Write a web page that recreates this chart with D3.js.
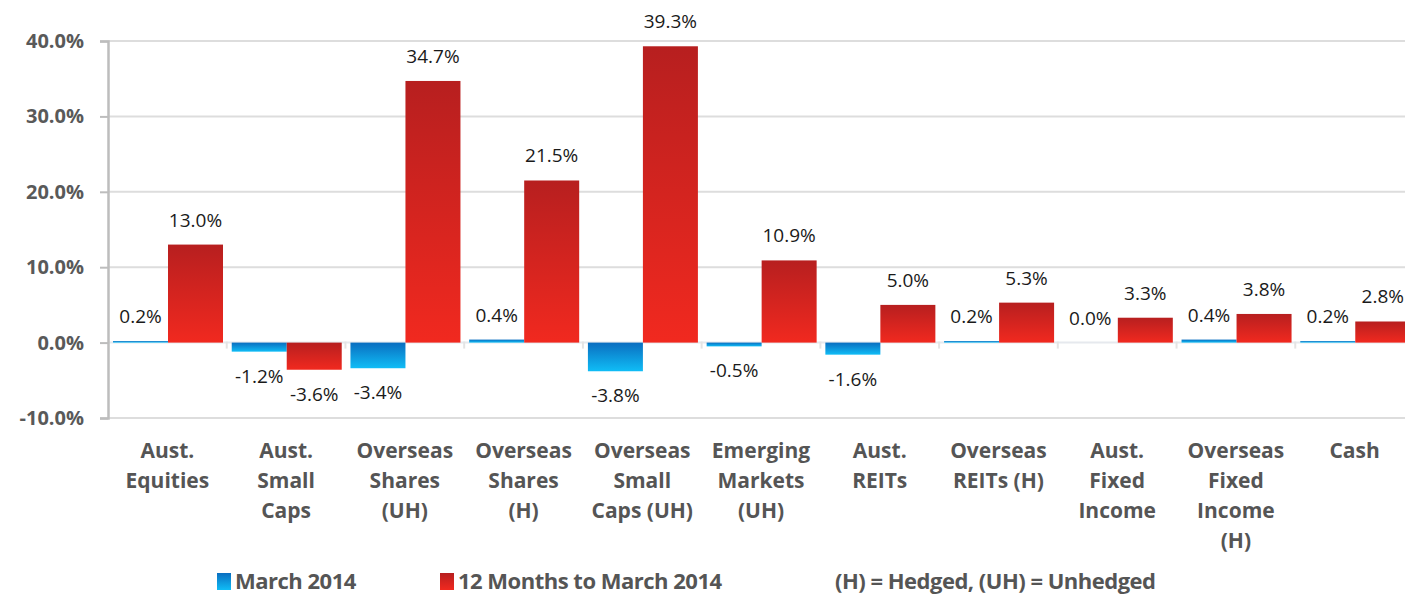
<!DOCTYPE html>
<html>
<head>
<meta charset="utf-8">
<script src="https://cdn.jsdelivr.net/npm/d3@7"></script>
<style>
  body { margin: 0; background: #fff; }
  svg { display: block; }
</style>
</head>
<body>
<script>
const width = 1405;
const height = 595;

// data
const categories = [
    ["Aust.", "Equities"],
    ["Aust.", "Small", "Caps"],
    ["Overseas", "Shares", "(UH)"],
    ["Overseas", "Shares", "(H)"],
    ["Overseas", "Small", "Caps (UH)"],
    ["Emerging", "Markets", "(UH)"],
    ["Aust.", "REITs"],
    ["Overseas", "REITs (H)"],
    ["Aust.", "Fixed", "Income"],
    ["Overseas", "Fixed", "Income", "(H)"],
    ["Cash"]
];
const march2014 = [0.2, -1.2, -3.4, 0.4, -3.8, -0.5, -1.6, 0.2, 0.0, 0.4, 0.2];
const twelveMonths = [13.0, -3.6, 34.7, 21.5, 39.3, 10.9, 5.0, 5.3, 3.3, 3.8, 2.8];
const yTicks = [-10, 0, 10, 20, 30, 40];
const seriesNames = ["March 2014", "12 Months to March 2014"];
const noteText = "(H) = Hedged, (UH) = Unhedged";

const font = "'Open Sans', 'Noto Sans', sans-serif";

// plot runs a little past the right edge, the last bar is clipped like the original
const margin = {left: 108, right: -9, top: 41, bottom: 178};

const svg = d3.select("body")
    .append("svg")
    .attr("width", width)
    .attr("height", height);

const defs = svg.append("defs");
const addGradient = (id, top, bottom) => {
    let g = defs.append("linearGradient")
        .attr("id", id)
        .attr("x1", 0).attr("y1", 0)
        .attr("x2", 0).attr("y2", 1);
    g.append("stop").attr("offset", "0%").attr("stop-color", top);
    g.append("stop").attr("offset", "100%").attr("stop-color", bottom);
};
addGradient("redGrad", "#b71f1f", "#f1291f");
addGradient("blueGrad", "#0a6ec0", "#10bdf6");

const x = d3.scaleBand()
    .domain(d3.range(categories.length))
    .range([margin.left, width - margin.right])
    .paddingInner(0)
    .paddingOuter(0);

const y = d3.scaleLinear()
    .domain([-10, 40])
    .range([height - margin.bottom + 1, margin.top]);

const groupW = x.bandwidth();
const barW = 55;
const barOff = 5;

// gridlines
svg.append("g")
    .selectAll("line")
    .data(yTicks)
    .join("line")
    .attr("x1", margin.left)
    .attr("x2", width)
    .attr("y1", d => y(d))
    .attr("y2", d => y(d))
    .attr("stroke", d => d === 0 ? "#e6e9ee" : "#dddddd")
    .attr("stroke-width", 2);

// category separators on the zero line
svg.append("g")
    .selectAll("line")
    .data(d3.range(1, categories.length))
    .join("line")
    .attr("x1", d => x(d))
    .attr("x2", d => x(d))
    .attr("y1", y(0) - 1)
    .attr("y2", y(0) + 6)
    .attr("stroke", "#e4e4e4")
    .attr("stroke-width", 2);

// y axis
const yAxis = d3.axisLeft(y)
    .tickValues(yTicks)
    .tickSize(8)
    .tickPadding(16)
    .tickFormat(d => d.toFixed(1) + "%");

const yG = svg.append("g")
    .attr("transform", `translate(${margin.left},0)`)
    .call(yAxis);
yG.select(".domain").attr("stroke", "#bdbdbd").attr("stroke-width", 2.5);
yG.selectAll(".tick line").attr("stroke", "#bdbdbd").attr("stroke-width", 2);
yG.selectAll(".tick text")
    .attr("font-family", font)
    .attr("font-weight", "bold")
    .attr("font-size", 20)
    .attr("fill", "#595959");

// bars
const drawSeries = (values, offset, gradId) => {
    let g = svg.append("g");
    g.selectAll("rect")
        .data(values)
        .join("rect")
        .attr("x", (d, i) => x(i) + offset)
        .attr("width", barW)
        .attr("y", d => d >= 0 ? y(d) : y(0))
        .attr("height", d => Math.abs(y(d) - y(0)))
        .attr("fill", `url(#${gradId})`);

    g.selectAll("text")
        .data(values)
        .join("text")
        .attr("x", (d, i) => x(i) + offset + barW / 2)
        .attr("y", d => d >= 0 ? y(d) - 18 : y(d) + 31)
        .attr("text-anchor", "middle")
        .attr("font-family", font)
        .attr("font-size", 19)
        .attr("fill", "#1a1a1a")
        .text(d => d.toFixed(1) + "%");
};
drawSeries(march2014, barOff, "blueGrad");
drawSeries(twelveMonths, barOff + barW, "redGrad");

// category labels
const catG = svg.append("g");
categories.forEach((lines, i) => {
    let t = catG.append("text")
        .attr("x", x(i) + groupW / 2)
        .attr("y", 458)
        .attr("text-anchor", "middle")
        .attr("font-family", font)
        .attr("font-weight", "bold")
        .attr("font-size", 21)
        .attr("fill", "#555555");
    lines.forEach((line, j) => {
        t.append("tspan")
            .attr("x", x(i) + groupW / 2)
            .attr("dy", j === 0 ? 0 : 30)
            .text(line);
    });
});

// legend
const legendY = 581;
const legend = svg.append("g").attr("font-family", font)
    .attr("font-weight", "bold").attr("font-size", 22).attr("fill", "#555555");
const legendItems = [
    {name: seriesNames[0], grad: "blueGrad", x: 217},
    {name: seriesNames[1], grad: "redGrad", x: 440}
];
legendItems.forEach(item => {
    legend.append("rect")
        .attr("x", item.x)
        .attr("y", legendY - 8)
        .attr("width", 14)
        .attr("height", 17)
        .attr("fill", `url(#${item.grad})`);
    legend.append("text")
        .attr("x", item.x + 18)
        .attr("y", legendY + 8)
        .attr("letter-spacing", -0.5)
        .text(item.name);
});
legend.append("text")
    .attr("x", 835)
    .attr("y", legendY + 8)
    .attr("letter-spacing", -0.5)
    .text(noteText);
</script>
</body>
</html>
